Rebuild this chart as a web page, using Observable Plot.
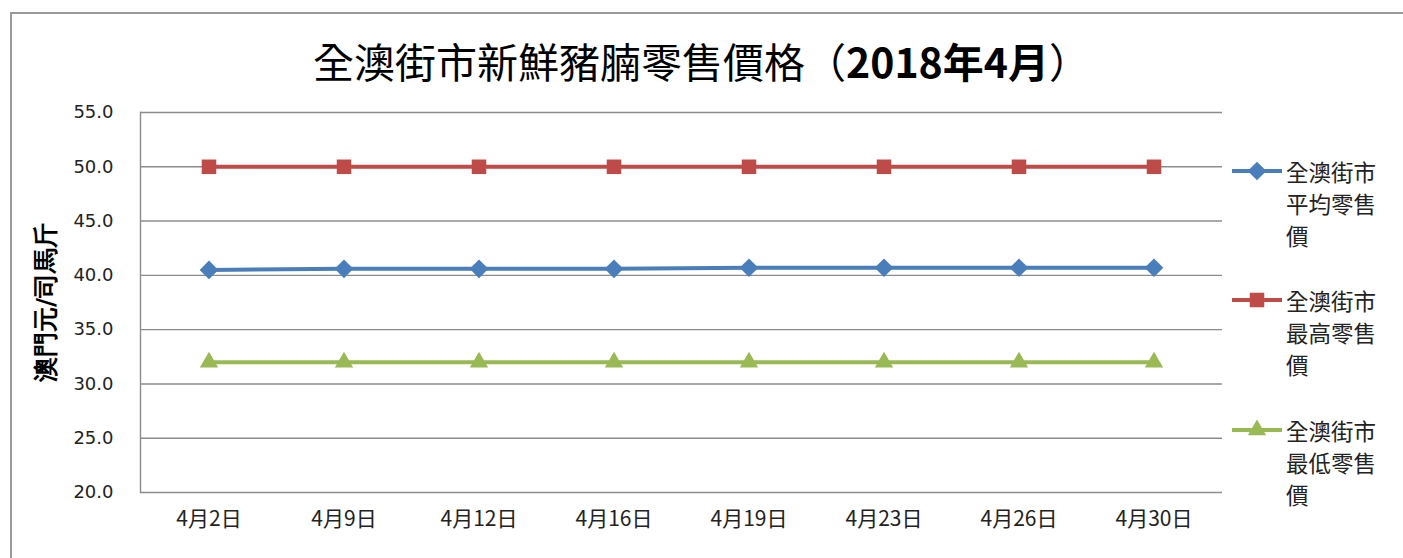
<!DOCTYPE html>
<html>
<head>
<meta charset="utf-8">
<script src="https://cdn.jsdelivr.net/npm/d3@7"></script>
<script src="https://cdn.jsdelivr.net/npm/@observablehq/plot@0.6"></script>
<style>
  body { margin: 0; background: #fff; }
  #wrap { position: relative; width: 1403px; height: 558px; overflow: hidden; font-family: "Noto Sans CJK TC", sans-serif; }
  #border { position: absolute; left: 10px; top: 12px; width: 1400px; height: 560px; border-top: 2px solid #9a9a9a; border-left: 2px solid #9a9a9a; }
  #title { position: absolute; left: 0; width: 1403px; top: 32px; text-align: center; font-size: 41px; line-height: 56px; color: #000; font-family: "Noto Sans CJK TC", sans-serif; }
  #title b { font-weight: 700; }
  #chart { position: absolute; left: 0; top: 0; }
  .leg { position: absolute; left: 1230px; }
  .leg svg { position: absolute; left: 0; top: 0; }
  .leg div { position: absolute; left: 56px; top: 0; width: 100px; font-size: 22.5px; line-height: 32px; color: #222; }
</style>
</head>
<body>
<div id="wrap">
  <div id="border"></div>
  <div id="chart"></div>
  <div id="title">全澳街市新鮮豬腩零售價格（<b>2018年4月</b>）</div>
  <div id="legend"></div>
</div>
<script>
const dates = ["4月2日", "4月9日", "4月12日", "4月16日", "4月19日", "4月23日", "4月26日", "4月30日"];
const avgPrice = [40.5, 40.6, 40.6, 40.6, 40.7, 40.7, 40.7, 40.7];
const maxPrice = [50.0, 50.0, 50.0, 50.0, 50.0, 50.0, 50.0, 50.0];
const minPrice = [32.0, 32.0, 32.0, 32.0, 32.0, 32.0, 32.0, 32.0];
const seriesNames = ["全澳街市平均零售價", "全澳街市最高零售價", "全澳街市最低零售價"];
const yTicks = [20, 25, 30, 35, 40, 45, 50, 55];
const yLabel = "澳門元/司馬斤";

const colors = ["#4a7ebb", "#be4b48", "#98b954"];
const symbols = ["diamond2", "square", "triangle"];
const symbolR = [8.4, 8.2, 6.8];
const values = [avgPrice, maxPrice, minPrice];

const rows = [];
values.forEach((arr, s) => arr.forEach((v, i) => rows.push({date: dates[i], value: v, series: seriesNames[s]})));

const marks = [
  Plot.ruleY(yTicks, {stroke: "#8c8c8c", strokeWidth: 1.4}),
  Plot.frame({anchor: "left", stroke: "#8c8c8c", strokeWidth: 1.4}),
  Plot.axisY({ticks: yTicks, tickSize: 0, tickPadding: 27, tickFormat: d3.format(".1f"),
    fontSize: 18, fontFamily: "DejaVu Sans, sans-serif", fill: "#222",
    label: yLabel, labelAnchor: "center", labelArrow: "none", labelOffset: 104}),
  Plot.axisX({tickSize: 0, tickPadding: 19, fontSize: 21, fill: "#222", label: null})
];
seriesNames.forEach((name, s) => {
  const data = rows.filter(d => d.series === name);
  marks.push(Plot.line(data, {x: "date", y: "value", stroke: colors[s], strokeWidth: 4}));
  marks.push(Plot.dot(data, {x: "date", y: "value", symbol: () => symbols[s], r: symbolR[s], fill: colors[s], stroke: "none"}));
});

const chart = Plot.plot({
  width: 1403, height: 558,
  marginLeft: 140, marginRight: 181, marginTop: 112, marginBottom: 66,
  x: {type: "band", domain: dates, padding: 0},
  y: {domain: [20, 55]},
  symbol: {type: "identity"},
  style: {fontFamily: "Noto Sans CJK TC, sans-serif", background: "transparent"},
  marks
});
chart.querySelectorAll("g[aria-label='y-axis label'] text").forEach(t => { t.setAttribute("font-size", "25"); t.style.fontSize = "25px"; t.style.fontWeight = "700"; t.style.fill = "#000"; });
document.getElementById("chart").appendChild(chart);

// legend
const legTops = [155, 284, 414];
const legend = d3.select("#legend");
seriesNames.forEach((name, s) => {
  const g = legend.append("div").attr("class", "leg").style("top", legTops[s] + "px");
  const svg = g.append("svg").attr("width", 54).attr("height", 32);
  svg.append("line").attr("x1", 2).attr("x2", 52).attr("y1", 16).attr("y2", 16).attr("stroke", colors[s]).attr("stroke-width", 4);
  const sym = [d3.symbolDiamond2, d3.symbolSquare, d3.symbolTriangle][s];
  const size = Math.PI * symbolR[s] * symbolR[s];
  svg.append("path").attr("transform", "translate(27,16)").attr("d", d3.symbol(sym, size)()).attr("fill", colors[s]);
  g.append("div").text(name);
});
</script>
</body>
</html>
